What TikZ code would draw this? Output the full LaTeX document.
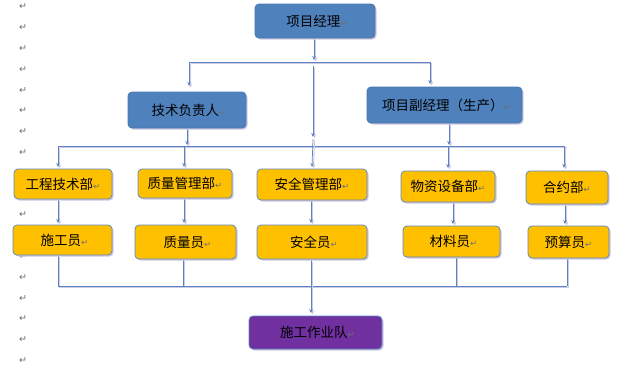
\documentclass[tikz,border=0pt]{standalone}
\usepackage{fontspec}
\setmainfont{Noto Sans CJK SC}
\newfontfamily\dejavu{DejaVu Sans}
\usetikzlibrary{shadows,arrows.meta}
\definecolor{boxblue}{HTML}{4F81BD}
\definecolor{blueedge}{HTML}{4A78B0}
\definecolor{boxyellow}{HTML}{FFC000}
\definecolor{yellowedge}{HTML}{5E8AC4}
\definecolor{boxpurple}{HTML}{7030A0}
\definecolor{lineblue}{HTML}{5A85C2}
\definecolor{shadowcol}{HTML}{CFC8E0}
\definecolor{markgray}{HTML}{6F6F6F}
\newcommand\pmk{{\color{markgray}\dejavu\fontsize{8.5}{8.5}\selectfont ↵}}
\tikzset{
  basebox/.style={rounded corners=4pt, line width=0.8pt, inner sep=0pt, font=\fontsize{13.5}{14}\selectfont,
    drop shadow={shadow xshift=1.5pt, shadow yshift=-1.5pt, fill=shadowcol, opacity=1}},
  bluebox/.style={basebox, fill=boxblue, draw=blueedge},
  yellowbox/.style={basebox, fill=boxyellow, draw=yellowedge},
  purplebox/.style={basebox, fill=boxpurple, draw=yellowedge},
  conn/.style={draw=lineblue, line width=0.7pt,
    preaction={draw=shadowcol, line width=1pt, transform canvas={xshift=1.5pt, yshift=-1.5pt}}},
  arr/.style={conn, -{Stealth[length=4pt, width=3.5pt]}},
  pmark/.style={text=markgray, font=\dejavu\fontsize{9.5}{9.5}\selectfont, inner sep=0pt}
}
\begin{document}
\begin{tikzpicture}[x=1pt,y=-1pt]
\useasboundingbox (0,0) rectangle (628,367);
\fill[white] (0,0) rectangle (628,367);
% paragraph marks
\foreach \k in {0,...,17}{
  \node[pmark] (pm\k) at (23,{7+20.8*\k}) {↵};
}
% connectors (drawn before boxes)
\coordinate (a1) at (314,38);
\coordinate (a2) at (314,60);
\coordinate (h1l) at (189,62);
\coordinate (h1r) at (430,62);
\coordinate (h1lt) at (189,86);
\coordinate (h1rt) at (430,84);
\coordinate (m1) at (313,66);
\coordinate (m2) at (313,137);
\coordinate (m3) at (313,139);
\coordinate (t1) at (187,128);
\coordinate (t2) at (187,145);
\coordinate (v1) at (449,123);
\coordinate (v2) at (449,145);
\coordinate (r2l) at (58,146);
\coordinate (r2r) at (565,146);
\coordinate (r2a) at (58,146);
\coordinate (r2b) at (184,146);
\coordinate (r2d) at (448,146);
\coordinate (r2e) at (564,146);
\coordinate (r3l) at (58,286);
\coordinate (r3r) at (567,286);

\draw[arr] (a1) -- (a2);
\draw[conn] (h1l) -- (h1r);
\draw[arr] (h1l) -- (h1lt);
\draw[arr] (h1r) -- (h1rt);
\draw[arr] (m1) -- (m2);
\draw[arr] (t1) -- (t2);
\draw[arr] (v1) -- (v2);
\draw[conn] (r2l) -- (r2r);
\draw[arr] (r2a) -- (58,167);
\draw[arr] (r2b) -- (184,167);
\draw[arr] (m3) -- (312,167);
\draw[arr] (r2d) -- (448,168);
\draw[arr] (r2e) -- (564,168);
% dept -> staff
\draw[arr] (58,199) -- (58,223);
\draw[arr] (184,198) -- (184,223);
\draw[arr] (311,200) -- (311,223);
\draw[arr] (453,202) -- (453,224);
\draw[arr] (565,204) -- (565,224);
% staff -> bottom line
\draw[conn] (58,255) -- (r3l);
\draw[conn] (183,259) -- (183,286);
\draw[conn] (456,256) -- (456,286);
\draw[conn] (567,257) -- (r3r);
\draw[conn] (r3l) -- (r3r);
\draw[arr] (311,260) -- (311,313);

% boxes
\node[bluebox, minimum width=120pt, minimum height=34pt] (pm) at (315,21) {\hspace*{4pt}项目经理\pmk};
\node[bluebox, minimum width=118pt, minimum height=36pt] (tech) at (187,110) {\hspace*{4pt}技术负责人\pmk};
\node[bluebox, minimum width=155pt, minimum height=36pt] (vice) at (444.5,105) {\hspace*{4pt}项目副经理（生产）\pmk};

\node[yellowbox, minimum width=98pt, minimum height=30pt] (d1) at (63,184) {工程技术部\pmk};
\node[yellowbox, minimum width=94pt, minimum height=29pt] (d2) at (185,183.5) {质量管理部\pmk};
\node[yellowbox, minimum width=110pt, minimum height=31pt] (d3) at (312,184.5) {安全管理部\pmk};
\node[yellowbox, minimum width=94pt, minimum height=31pt] (d4) at (448,186.5) {物资设备部\pmk};
\node[yellowbox, minimum width=82pt, minimum height=33pt] (d5) at (567,187.5) {合约部\pmk};

\node[yellowbox, minimum width=99pt, minimum height=30pt] (s1) at (62.5,240) {\hspace*{4pt}施工员\pmk};
\node[yellowbox, minimum width=101pt, minimum height=34pt] (s2) at (185.5,242) {\hspace*{4pt}质量员\pmk};
\node[yellowbox, minimum width=110pt, minimum height=34pt] (s3) at (312,242) {\hspace*{4pt}安全员\pmk};
\node[yellowbox, minimum width=97pt, minimum height=31pt] (s4) at (451.5,241.5) {\hspace*{4pt}材料员\pmk};
\node[yellowbox, minimum width=81pt, minimum height=32pt] (s5) at (568.5,242) {预算员\pmk};

\node[purplebox, minimum width=133pt, minimum height=33pt] (crew) at (315.5,332.5) {\hspace*{4pt}施工作业队\pmk};
\end{tikzpicture}
\end{document}
